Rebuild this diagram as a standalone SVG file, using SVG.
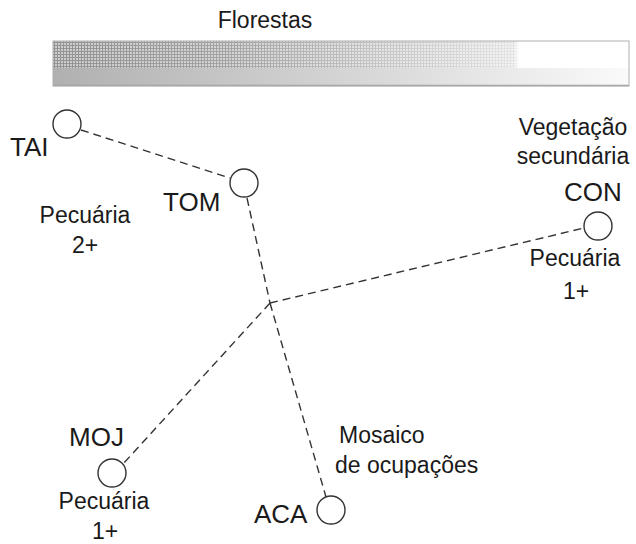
<svg xmlns="http://www.w3.org/2000/svg" width="636" height="544" viewBox="0 0 636 544">
<style>
text{font-family:"Liberation Sans",Arial,sans-serif;fill:#1a1a1a}
.lbl{font-size:23px}
.nd{font-size:26px}
.node circle{fill:#fff;stroke:#333;stroke-width:1.4}
.edge{stroke:#333;stroke-width:1.4;stroke-dasharray:8,5;fill:none}
</style>
<defs>
<pattern id="grid" width="3" height="3" patternUnits="userSpaceOnUse">
<rect width="3" height="3" fill="#cccccc"/>
<rect width="3" height="1" fill="#939393"/>
<rect width="1" height="3" fill="#939393"/>
</pattern>
<linearGradient id="fade" x1="0" x2="1" y1="0" y2="0">
<stop offset="0" stop-color="#fff" stop-opacity="0"/>
<stop offset="0.3" stop-color="#fff" stop-opacity="0.15"/>
<stop offset="0.8" stop-color="#fff" stop-opacity="0.75"/>
<stop offset="0.81" stop-color="#fff" stop-opacity="1"/>
<stop offset="1" stop-color="#fff" stop-opacity="1"/>
</linearGradient>
<linearGradient id="bot" x1="0" x2="1" y1="0" y2="0">
<stop offset="0" stop-color="#b0b0b0"/>
<stop offset="0.5" stop-color="#d4d4d4"/>
<stop offset="1" stop-color="#fafafa"/>
</linearGradient>
</defs>
<g id="bar">
<rect x="53" y="41" width="576" height="27" fill="url(#grid)"/>
<rect x="53" y="41" width="576" height="27" fill="url(#fade)"/>
<rect x="53" y="68" width="576" height="18" fill="url(#bot)"/>
<line x1="53" y1="85.5" x2="629" y2="85.5" stroke="#a0a0a0" stroke-width="1.5"/>
<rect x="53" y="41" width="576" height="45" fill="none" stroke="#b0b0b0" stroke-width="1"/>
<text class="lbl" x="265" y="28" text-anchor="middle">Florestas</text>
</g>
<g id="connectors">
<line class="edge" x1="81" y1="130" x2="230" y2="178"/>
<line class="edge" x1="247" y1="198" x2="270" y2="303"/>
<line class="edge" x1="270" y1="303" x2="326" y2="497"/>
<line class="edge" x1="270" y1="303" x2="584" y2="228"/>
<line class="edge" x1="270" y1="303" x2="123" y2="464"/>
</g>
<g id="TAI" class="node"><circle cx="67" cy="124" r="14"/><text class="nd" x="10" y="156">TAI</text></g>
<g id="TOM" class="node"><circle cx="244" cy="183" r="14"/><text class="nd" x="163" y="211">TOM</text></g>
<g id="CON" class="node"><circle cx="598" cy="226" r="14"/><text class="nd" x="564" y="201">CON</text></g>
<g id="MOJ" class="node"><circle cx="112" cy="473" r="14"/><text class="nd" x="69" y="446">MOJ</text></g>
<g id="ACA" class="node"><circle cx="331" cy="510" r="14"/><text class="nd" x="254" y="523">ACA</text></g>
<g id="labels">
<text class="lbl" x="85" y="223" text-anchor="middle">Pecuária</text>
<text class="lbl" x="85" y="253" text-anchor="middle">2+</text>
<text class="lbl" x="573" y="135" text-anchor="middle">Vegetação</text>
<text class="lbl" x="573" y="164" text-anchor="middle">secundária</text>
<text class="lbl" x="575" y="266" text-anchor="middle">Pecuária</text>
<text class="lbl" x="576" y="299" text-anchor="middle">1+</text>
<text class="lbl" x="104" y="509" text-anchor="middle">Pecuária</text>
<text class="lbl" x="105" y="539" text-anchor="middle">1+</text>
<text class="lbl" x="339" y="443">Mosaico</text>
<text class="lbl" x="335" y="473">de ocupações</text>
</g>
</svg>
